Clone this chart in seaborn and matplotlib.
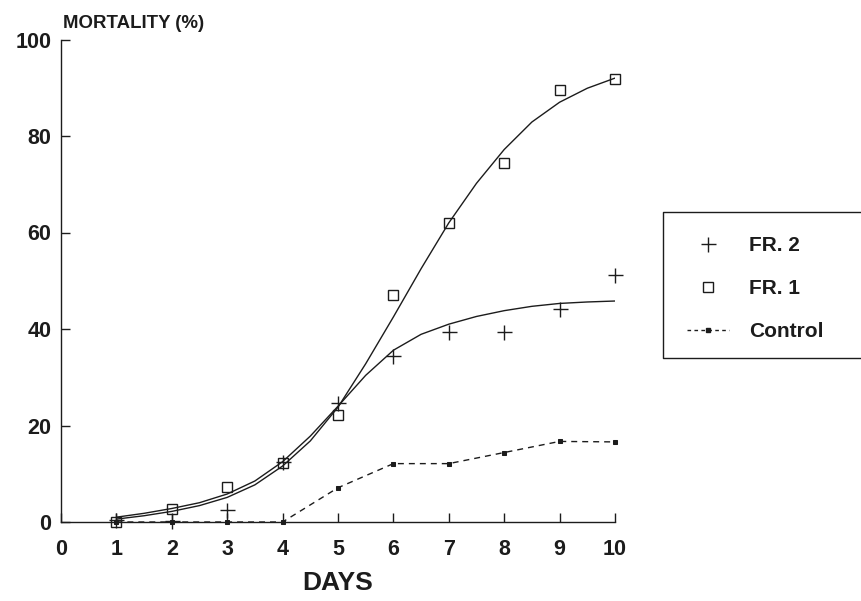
import matplotlib
matplotlib.use("Agg")
import matplotlib.pyplot as plt
from matplotlib.lines import Line2D
import seaborn as sns

# observed mortality (%) per day
days = [1, 2, 3, 4, 5, 6, 7, 8, 9, 10]
fr1 = [0.0, 2.6, 7.3, 12.3, 22.2, 47.0, 62.0, 74.4, 89.5, 91.8]
fr2 = [0.4, 0.3, 2.5, 12.5, 24.6, 34.5, 39.4, 39.3, 44.1, 51.2]
control = [0.0, 0.0, 0.0, 0.0, 7.1, 12.1, 12.1, 14.4, 16.7, 16.6]

# fitted curves every half day
curve_days = [1, 1.5, 2, 2.5, 3, 3.5, 4, 4.5, 5, 5.5,
              6, 6.5, 7, 7.5, 8, 8.5, 9, 9.5, 10]
fr1_curve = [0.6, 1.3, 2.2, 3.4, 5.1, 7.7, 11.6, 16.8, 23.8, 32.8,
             42.5, 52.5, 62.0, 70.2, 77.2, 82.9, 87.0, 89.9, 92.0]
fr2_curve = [1.0, 1.8, 2.8, 4.0, 5.8, 8.5, 12.5, 17.8, 24.0, 30.4,
             35.6, 38.9, 41.0, 42.6, 43.8, 44.7, 45.3, 45.6, 45.8]

x_ticks = list(range(0, 11))
y_ticks = [0, 20, 40, 60, 80, 100]

sns.set_style("ticks")
plt.rcParams['font.family'] = ['Liberation Sans', 'DejaVu Sans']

ink = '#1c1c1c'
fig = plt.figure(figsize=(8.62, 6.01), dpi=100)
ax = fig.add_axes([61 / 862, 1 - 522 / 601, (615 - 61) / 862, (522 - 39.5) / 601])

# fitted curves
sns.lineplot(x=curve_days, y=fr1_curve, color=ink, lw=1.0, ax=ax)
sns.lineplot(x=curve_days, y=fr2_curve, color=ink, lw=1.0, ax=ax)

# control, dashed with small dots
sns.lineplot(x=days, y=control, color=ink, lw=1.0, ls=(0, (4.3, 3.6)),
             marker='s', ms=2.6, mec=ink, ax=ax, clip_on=False)

# observed points
sns.lineplot(x=days, y=fr1, ls='', marker='s', ms=7.9, mfc='none',
             mec=ink, mew=1.0, ax=ax, clip_on=False)
sns.lineplot(x=days, y=fr2, ls='', marker='+', ms=10.8,
             mec=ink, mew=1.0, ax=ax, clip_on=False)

ax.set_xlim(0, 10)
ax.set_ylim(0, 100)
ax.set_xticks(x_ticks)
ax.set_yticks(y_ticks)
ax.set_xlabel('')
ax.set_ylabel('')
sns.despine(ax=ax)
for s in ['left', 'bottom']:
    ax.spines[s].set_color(ink)
    ax.spines[s].set_linewidth(1.0)
ax.tick_params(direction='in', length=6.5, width=1.0, colors=ink, labelsize=15.5)
ax.tick_params(axis='x', pad=12)
ax.tick_params(axis='y', pad=7)
plt.setp(ax.get_xticklabels() + ax.get_yticklabels(), fontweight='bold')

fig.text(63 / 862, 1 - 28 / 601, 'MORTALITY (%)', fontsize=13.4,
         fontweight='bold', color=ink, va='baseline', ha='left')
fig.text(338 / 862, 1 - 590 / 601, 'DAYS', fontsize=19,
         fontweight='bold', color=ink, va='baseline', ha='center')

# legend; its box runs off the right edge of the figure, as in the original
handles = [
    Line2D([], [], ls='', marker='+', ms=10.8, mew=1.0, color=ink),
    Line2D([], [], ls='', marker='s', ms=7.9, mfc='none', mec=ink, mew=1.0),
    Line2D([], [], ls=(0, (2.6, 2.4)), lw=1.0, marker='s', ms=2.6, color=ink),
]
labels = ['FR. 2', 'FR. 1', 'Control']
leg = fig.legend(handles, labels, loc='upper left',
                 bbox_to_anchor=(663 / 862, 1 - 212 / 601),
                 borderaxespad=0, frameon=False,
                 borderpad=1.15, labelspacing=1.15,
                 handlelength=2.0, handletextpad=1.0,
                 prop={'size': 15, 'weight': 'bold'})
for t in leg.get_texts():
    t.set_color(ink)
box_l, box_r = 663 / 862, 1.0
box_t, box_b = 1 - 212 / 601, 1 - 358 / 601
fig.add_artist(Line2D([box_r, box_l, box_l, box_r], [box_t, box_t, box_b, box_b],
                      transform=fig.transFigure, color=ink, lw=1.0))

fig.savefig("out.png", dpi=100)
